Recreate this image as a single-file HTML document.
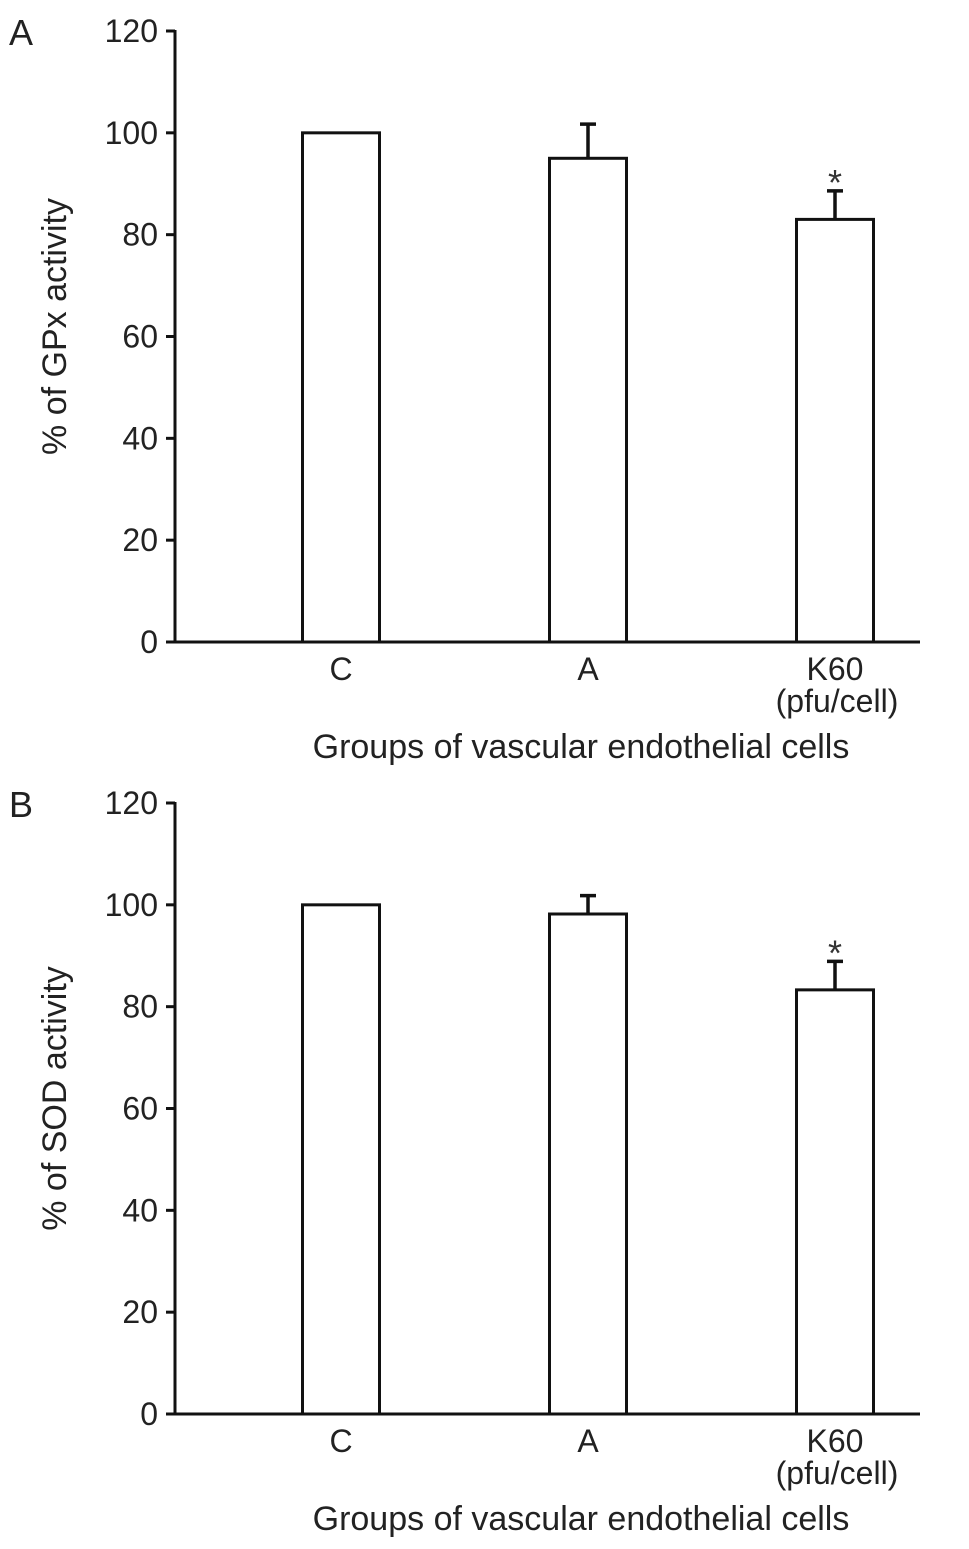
<!DOCTYPE html>
<html><head><meta charset="utf-8"><style>
html,body{margin:0;padding:0;background:#fff;}
svg{display:block;font-family:"Liberation Sans",Arial,sans-serif;}
</style></head><body>
<svg id="chart" width="969" height="1549" viewBox="0 0 969 1549"></svg>
<script>
const categories = ["C", "A", "K60"];
const gpxValues = [100, 95, 83];
const gpxErrors = [0, 6.7, 5.6];
const sodValues = [100, 98.2, 83.3];
const sodErrors = [0, 3.6, 5.6];
const significant = [false, false, true];
const yTicks = [0, 20, 40, 60, 80, 100, 120];

const NS = "http://www.w3.org/2000/svg";
const svg = document.getElementById("chart");
function mk(tag, attrs, parent) {
  const e = document.createElementNS(NS, tag);
  for (const k in attrs) e.setAttribute(k, attrs[k]);
  (parent || svg).appendChild(e);
  return e;
}
const barCenters = [341, 588, 835];
const barW = 77;
const FS = 32;
const TFS = 34;

function panel(letter, top0, values, errors, yTitle, nameKey) {
  const g = mk("g", {});
  
  
  const yZero = top0 + 611, yTop = top0;
  const y = v => yZero - (v / 120) * (yZero - yTop);
  const axisX = 175;
  const lt = mk("text", {x: 9, y: top0 + 14, "font-size": 36, fill: "#222"}, g);
  lt.textContent = letter;
  
  
  const ya = mk("line", {x1: axisX, y1: yTop - 1, x2: axisX, y2: yZero + 1.5, stroke: "#111", "stroke-width": 3}, g);
  
  
  const xa = mk("line", {x1: 166, y1: yZero, x2: 920, y2: yZero, stroke: "#111", "stroke-width": 3}, g);
  
  
  yTicks.forEach(t => {
    const tk = mk("line", {x1: 166, y1: y(t), x2: axisX, y2: y(t), stroke: "#111", "stroke-width": 3}, g);
    
    
    const tl = mk("text", {x: 158, y: y(t) + 11, "font-size": FS, "text-anchor": "end", fill: "#222"}, g);
    tl.textContent = t;
    
    
  });
  const yt = mk("text", {transform: `translate(66,${(yTop + yZero) / 2 - 10}) rotate(-90)`, "font-size": TFS, "text-anchor": "middle", fill: "#222"}, g);
  yt.textContent = yTitle;
  
  
  categories.forEach((c, i) => {
    const cx = barCenters[i];
    const bt = y(values[i]);
    const r = mk("rect", {x: cx - barW / 2, y: bt, width: barW, height: yZero - bt, fill: "#fff", stroke: "#111", "stroke-width": 3}, g);
    
    
    if (errors[i] > 0) {
      const et = y(values[i] + errors[i]);
      const el = mk("path", {d: `M${cx},${bt} V${et} M${cx - 8},${et} H${cx + 8}`, stroke: "#111", "stroke-width": 3.5, fill: "none"}, g);
      
      
      if (significant[i]) {
        const st = mk("text", {x: cx, y: et + 4, "font-size": 36, "text-anchor": "middle", fill: "#333"}, g);
        st.textContent = "*";
        
        
      }
    }
    const xl = mk("text", {x: cx, y: yZero + 38, "font-size": FS, "text-anchor": "middle", fill: "#222"}, g);
    xl.textContent = c;
    
    
    if (c === "K60") {
      const u = mk("text", {x: cx + 2, y: yZero + 70, "font-size": FS, "text-anchor": "middle", fill: "#222"}, g);
      u.textContent = "(pfu/cell)";
      
      
    }
  });
  const xt = mk("text", {x: 581, y: yZero + 116, "font-size": TFS, "text-anchor": "middle", fill: "#222"}, g);
  xt.textContent = "Groups of vascular endothelial cells";
  
  
}
panel("A", 31, gpxValues, gpxErrors, "% of GPx activity", "gpx");
panel("B", 803, sodValues, sodErrors, "% of SOD activity", "sod");
</script>
</body></html>
